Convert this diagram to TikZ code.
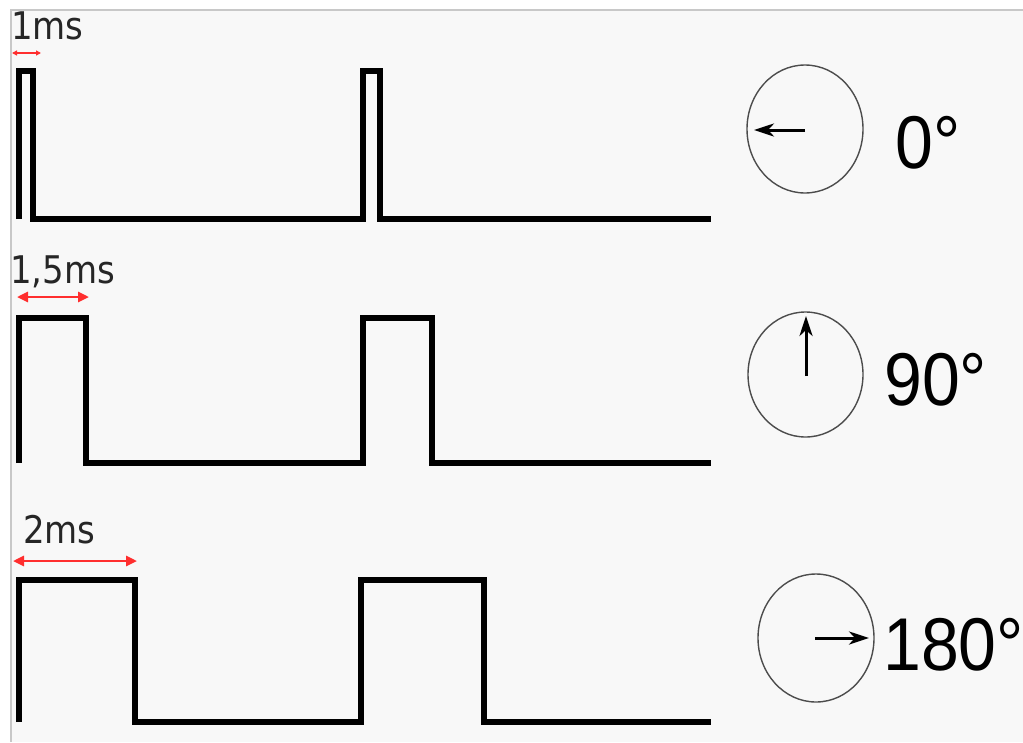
\documentclass[tikz,border=0pt]{standalone}
\usepackage{fontspec}
\usetikzlibrary{arrows.meta,shapes.geometric}
\newfontfamily\labelfont{DejaVu Sans}
\newfontfamily\anglefont{Liberation Sans}
\definecolor{paper}{HTML}{F8F8F8}
\definecolor{frame}{HTML}{C8C8C8}
\definecolor{spanred}{HTML}{FF2E2E}
\tikzset{
  signal/.style={line width=6pt, line join=miter, black},
  span/.style={spanred, line width=2.6pt, {Triangle[length=11pt,width=10pt]}-{Triangle[length=11pt,width=10pt]}},
  shortspan/.style={spanred, line width=2.2pt, {Triangle[length=5pt,width=5pt]}-{Triangle[length=5pt,width=5pt]}},
  dial/.style={draw=black!70, line width=1.4pt, ellipse, minimum width=116pt, minimum height=128pt, inner sep=0pt},
  needle/.style={black, line width=3pt, -{Stealth[length=20pt,width=13pt,inset=6pt]}},
  spanlabel/.style={inner sep=0pt, anchor=base west, font=\labelfont\fontsize{34}{40}\selectfont, text=black!85},
  anglelabel/.style={inner sep=0pt, anchor=west, font=\anglefont\fontsize{68}{80}\selectfont},
}
\begin{document}
\begin{tikzpicture}[x=1pt,y=-1pt]
  \useasboundingbox (0,0) rectangle (1023,742);
  % page background with its frame on the top and left
  \fill[white] (0,0) rectangle (1023,742);
  \fill[paper] (11,10) rectangle (1023,742);
  \draw[frame, line width=2pt] (11,742) -- (11,10) -- (1023,10);

  % pulse trains
  \draw[signal] (19,219) -- (19,71) -- (33,71) -- (33,219) -- (363,219)
    -- (363,71) -- (380,71) -- (380,219) -- (711,219);
  \draw[signal] (19,463) -- (19,318) -- (86,318) -- (86,463) -- (363,463)
    -- (363,318) -- (432,318) -- (432,463) -- (711,463);
  \draw[signal] (19,722) -- (19,580) -- (135,580) -- (135,722) -- (361,722)
    -- (361,580) -- (484,580) -- (484,722) -- (711,722);

  % pulse width markers
  \coordinate (w1a) at (12,53);  \coordinate (w1b) at (41,53);
  \coordinate (w2a) at (17,297); \coordinate (w2b) at (89,297);
  \coordinate (w3a) at (13,561); \coordinate (w3b) at (137,561);
  \draw[shortspan] (w1a) -- (w1b);
  \draw[span] (w2a) -- (w2b);
  \draw[span] (w3a) -- (w3b);
  \node[spanlabel] (t1) at (11,39) {\scalebox{1}[1.12]{1ms}};
  \node[spanlabel] (t2) at (10,283) {\scalebox{1}[1.12]{1,5ms}};
  \node[spanlabel] (t3) at (23,543) {\scalebox{1}[1.12]{2ms}};

  % servo dials
  \node[dial] (d0) at (805,129) {};
  \node[dial, minimum width=115pt, minimum height=125pt] (d90) at (805.5,374.5) {};
  \node[dial] (d180) at (816,638) {};
  \coordinate (p0) at (754,130);
  \coordinate (p90) at (806,316);
  \coordinate (p180) at (869,638);
  \draw[needle] (805,130) -- (p0);
  \draw[needle] (806,376) -- (p90);
  \draw[needle] (815,638) -- (p180);

  % angle labels
  \node[anglelabel] (a0) at (895,142.5) {\scalebox{1}[1.1]{0°}};
  \node[anglelabel] (a90) at (884,380) {\scalebox{1}[1.1]{90°}};
  \node[anglelabel] (a180) at (883,645) {\scalebox{1}[1.1]{180°}};
\end{tikzpicture}
\end{document}
